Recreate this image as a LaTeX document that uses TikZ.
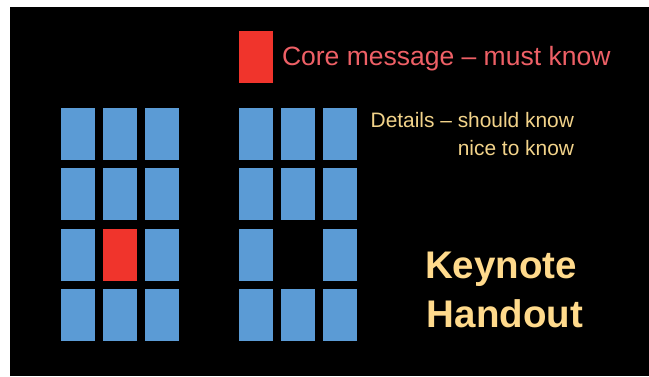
\documentclass[tikz,border=0pt]{standalone}
\usepackage{fontspec}
\setmainfont{Liberation Sans}
\definecolor{cardblue}{HTML}{5B9BD5}
\definecolor{cardred}{HTML}{F0342C}
\definecolor{coretext}{HTML}{EE6066}
\definecolor{detailtext}{HTML}{F2D38A}
\definecolor{titletext}{HTML}{FFDA8C}
\begin{document}
\begin{tikzpicture}[x=1pt,y=-1pt,
  card/.style={fill=cardblue,draw=none},
  hotcard/.style={fill=cardred,draw=none},
  txt/.style={inner sep=0pt,outer sep=0pt}]
\useasboundingbox (0,0) rectangle (649,376);
\fill[black] (10,7) rectangle (649,376);
% left grid
\foreach \x in {61,103,145}{
  \foreach \y in {108,168,229,289}{
    \fill[cardblue] (\x,\y) rectangle ++(34,52);
  }
}
\fill[cardred] (103,229) rectangle ++(34,52);
% right grid
\foreach \x in {239,281,323}{
  \foreach \y in {108,168,289}{
    \fill[cardblue] (\x,\y) rectangle ++(34,52);
  }
}
\fill[cardblue] (239,229) rectangle ++(34,52);
\fill[cardblue] (323,229) rectangle ++(34,52);
% legend card
\fill[cardred] (239,31) rectangle (273,83);
\node[txt,anchor=base west,text=coretext,font=\fontsize{26.5}{28}\selectfont] (core) at (282,65) {Core message – must know};
\node[txt,anchor=base east,text=detailtext,font=\fontsize{20.9}{22}\selectfont] (det) at (574,127) {Details – should know};
\node[txt,anchor=base east,text=detailtext,font=\fontsize{20.9}{22}\selectfont] (nice) at (574,155) {nice to know};
\node[txt,anchor=base,text=titletext,font=\bfseries\fontsize{38.5}{40}\selectfont] (k) at (501,278) {Keynote};
\node[txt,anchor=base,text=titletext,font=\bfseries\fontsize{38.5}{40}\selectfont] (h) at (505,327) {Handout};
\end{tikzpicture}
\end{document}
